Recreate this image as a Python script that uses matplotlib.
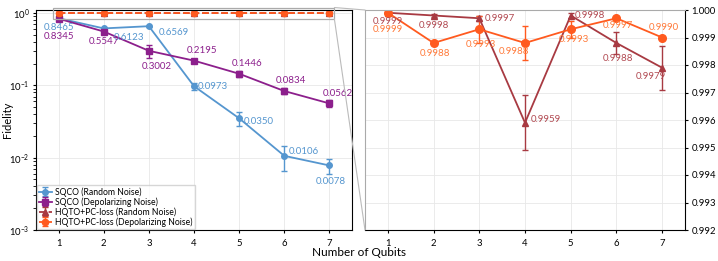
import matplotlib
matplotlib.use("Agg")
import matplotlib.pyplot as plt
from matplotlib.patches import Rectangle, ConnectionPatch

plt.rcParams['font.family'] = ['Lato', 'DejaVu Sans']
plt.rcParams['mathtext.fontset'] = 'dejavusans'

qubits = [1, 2, 3, 4, 5, 6, 7]
sqco_rand = [0.8465, 0.6123, 0.6569, 0.0973, 0.0350, 0.0106, 0.0078]
sqco_rand_err = [0.01, 0.01, 0.01, 0.010, 0.0075, 0.004, 0.0019]
sqco_dep = [0.8345, 0.5547, 0.3002, 0.2195, 0.1446, 0.0834, 0.0562]
sqco_dep_err = [0.03, 0.02, 0.06, 0.008, 0.015, 0.008, 0.006]
hq_rand = [0.9999, 0.9998, 0.9997, 0.9959, 0.9998, 0.9988, 0.9979]
hq_rand_err = [0.00003, 0.00005, 0.0001, 0.0010, 0.0001, 0.0004, 0.0008]
hq_dep = [0.9999, 0.9988, 0.9993, 0.9988, 0.9993, 0.9997, 0.9990]
hq_dep_err = [0.00005, 0.00005, 0.0005, 0.0006, 0.0003, 0.00005, 0.00005]

c_blue = '#5596cf'
c_purp = '#8c1f8c'
c_red = '#a83a42'
c_orng = '#ff5a1f'
c_orng_t = '#ff7a3a'

fig = plt.figure(figsize=(7.18, 2.61), dpi=100)
ax1 = fig.add_axes([36/718, 31/261, 316/718, 220/261])
ax2 = fig.add_axes([365/718, 31/261, 320/718, 220/261])

ekw = dict(capsize=2.5, elinewidth=1.0, capthick=1.0, lw=1.3)
ax1.errorbar(qubits, sqco_rand, yerr=sqco_rand_err, color=c_blue, marker='o', ms=4,
             label='SQCO (Random Noise)', **ekw)
ax1.errorbar(qubits, sqco_dep, yerr=sqco_dep_err, color=c_purp, marker='s', ms=4,
             label='SQCO (Depolarizing Noise)', **ekw)
ax1.errorbar(qubits, hq_rand, yerr=hq_rand_err, color=c_red, marker='^', ms=4, ls='--',
             label='HQTO+PC-loss (Random Noise)', **ekw)
ax1.errorbar(qubits, hq_dep, yerr=hq_dep_err, color=c_orng, marker='o', ms=4.5, ls='--',
             label='HQTO+PC-loss (Depolarizing Noise)', **ekw)
ax1.set_yscale('log')
ax1.set_ylim(1e-3, 1.1)
ax1.set_xlim(0.5, 7.5)
ax1.set_xticks(qubits)
ax1.grid(True, color='#e8e8e8', lw=0.6)
ax1.set_axisbelow(True)
ax1.set_ylabel('Fidelity', fontsize=8)
ax1.yaxis.set_label_coords(-0.072, 0.5)
ax1.tick_params(labelsize=6.8, length=2.5, pad=2)
ax1.tick_params(axis='x', pad=4)
leg = ax1.legend(loc='lower left', fontsize=6.2, frameon=True, borderpad=0.25,
                 labelspacing=0.05, handlelength=1.4, handletextpad=0.4,
                 borderaxespad=0.15, fancybox=False, edgecolor='#cccccc')

# annotations left (offsets in points)
ann_blue = [(0, -3.5, 'center', 'top'), (18, -3, 'center', 'top'), (18, -1, 'center', 'top'),
            (3, 0, 'left', 'center'), (3, -2, 'left', 'center'), (3, 3, 'left', 'center'),
            (1, -8, 'center', 'top')]
ann_purp = [(0, -9.5, 'center', 'top'), (0, -4, 'center', 'top'), (6, -8, 'center', 'top'),
            (6, 4, 'center', 'bottom'), (6, 4, 'center', 'bottom'), (5, 4, 'center', 'bottom'),
            (6, 4, 'center', 'bottom')]
for x, v, (dx, dy, ha, va) in zip(qubits, sqco_rand, ann_blue):
    ax1.annotate(f'{v:.4f}', (x, v), xytext=(dx, dy), textcoords='offset points',
                 ha=ha, va=va, fontsize=7, color=c_blue)
for x, v, (dx, dy, ha, va) in zip(qubits, sqco_dep, ann_purp):
    ax1.annotate(f'{v:.4f}', (x, v), xytext=(dx, dy), textcoords='offset points',
                 ha=ha, va=va, fontsize=7, color=c_purp)

# right panel
ax2.errorbar(qubits, hq_rand, yerr=hq_rand_err, color=c_red, marker='^', ms=4.5, **ekw)
ax2.errorbar(qubits, hq_dep, yerr=hq_dep_err, color=c_orng, marker='o', ms=5.5, **ekw)
ax2.set_ylim(0.992, 1.000)
ax2.set_xlim(0.5, 7.5)
ax2.set_xticks(qubits)
ax2.set_yticks([0.992 + 0.001 * i for i in range(9)])
ax2.yaxis.tick_right()
ax2.yaxis.set_major_formatter(matplotlib.ticker.FormatStrFormatter('%.3f'))
ax2.grid(True, color='#e8e8e8', lw=0.6)
ax2.set_axisbelow(True)
ax2.tick_params(labelsize=6.8, length=2.5, pad=2)
ax2.tick_params(axis='x', pad=4)
ax2.spines['left'].set_color('#aaaaaa')
ax2.spines['top'].set_color('#aaaaaa')

ann_red = [(0, -3, 'center', 'top'), (0, -4, 'center', 'top'), (4, 0, 'left', 'center'),
           (4, 2, 'left', 'center'), (3, 0, 'left', 'center'), (1, -8, 'center', 'top'),
           (-8, -3, 'center', 'top')]
ann_org = [(0, -8.5, 'center', 'top'), (1, -4, 'center', 'top'), (1, -8, 'center', 'top'),
           (-8, -3, 'center', 'top'), (2, -4, 'center', 'top'), (1, -2, 'center', 'top'),
           (1, 4, 'center', 'bottom')]
for x, v, (dx, dy, ha, va) in zip(qubits, hq_rand, ann_red):
    ax2.annotate(f'{v:.4f}', (x, v), xytext=(dx, dy), textcoords='offset points',
                 ha=ha, va=va, fontsize=7, color='#b24a52')
for x, v, (dx, dy, ha, va) in zip(qubits, hq_dep, ann_org):
    ax2.annotate(f'{v:.4f}', (x, v), xytext=(dx, dy), textcoords='offset points',
                 ha=ha, va=va, fontsize=7, color=c_orng_t)

# inset indicator box and connectors
bx0, bx1, by0, by1 = 0.87, 7.11, 0.826, 1.19
rect = Rectangle((bx0, by0), bx1 - bx0, by1 - by0, fill=False, edgecolor='#aaaaaa',
                 lw=0.9, clip_on=False, zorder=5)
ax1.add_patch(rect)
for (yy, ay) in [(by1, 1), (by0, 0)]:
    cp = ConnectionPatch(xyA=(bx1, yy), coordsA=ax1.transData, xyB=(0, ay),
                         coordsB=ax2.transAxes, color='#bbbbbb', lw=0.8)
    fig.add_artist(cp)

fig.text(0.5, 0.012, 'Number of Qubits', ha='center', va='bottom', fontsize=8.5)

fig.savefig('out.png', dpi=100)
